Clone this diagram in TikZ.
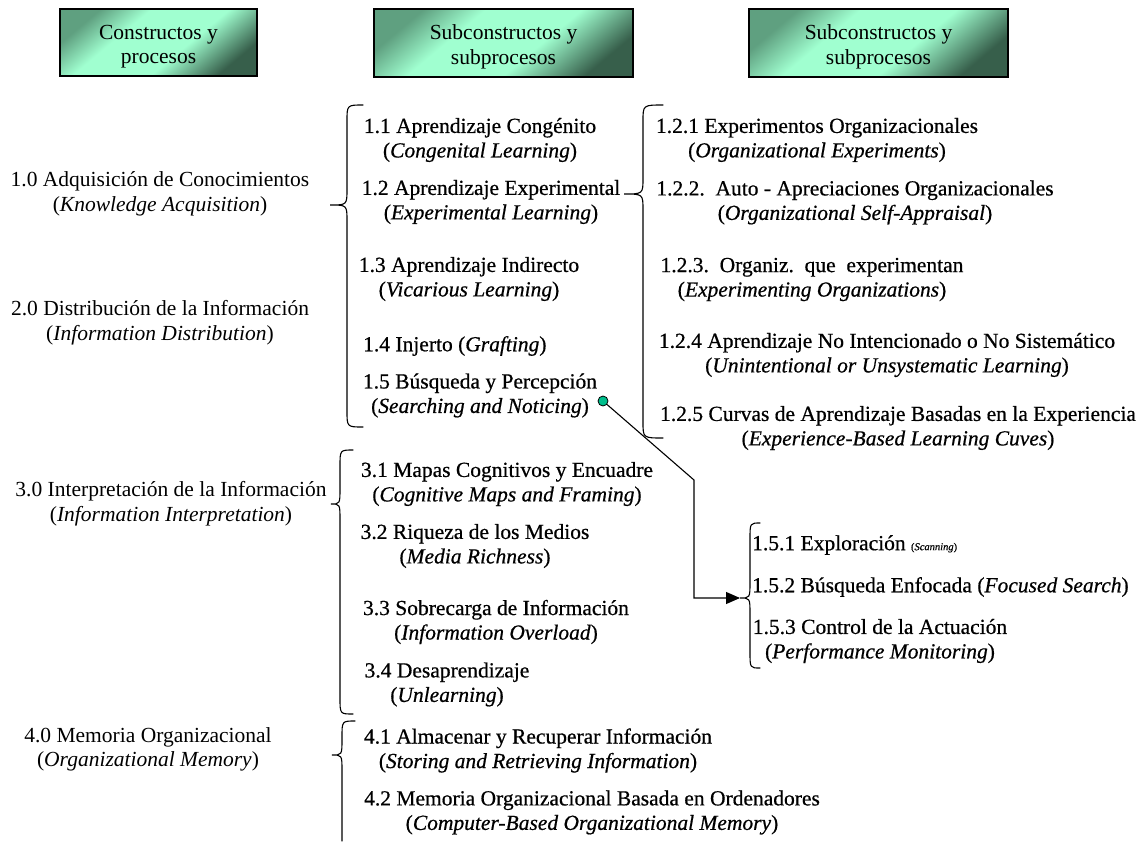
\documentclass[tikz,border=0pt]{standalone}
\usepackage{fontspec}
\setmainfont{Liberation Serif}
\newfontfamily\heavyfont[FakeBold=0.6]{Liberation Serif}
\usetikzlibrary{arrows.meta}
\frenchspacing
\definecolor{hlight}{RGB}{160,255,208}
\definecolor{hdarkA}{RGB}{95,160,128}
\definecolor{hdarkB}{RGB}{55,95,75}
\definecolor{dotfill}{RGB}{0,190,140}
\pgfdeclareverticalshading{hdrshade}{100bp}{color(0bp)=(hdarkB); color(25bp)=(hdarkB); color(42bp)=(hlight); color(62bp)=(hlight); color(75bp)=(hdarkA); color(100bp)=(hdarkA)}
\tikzset{
  txt/.style={font=\fontsize{21.5}{24.5}\selectfont, align=center, inner sep=0pt},
  stxt/.style={font=\heavyfont\fontsize{21.5}{24.5}\selectfont, align=center, inner sep=0pt},
  hdrbox/.style={draw=black, line width=1.4pt, shading=hdrshade, shading angle=40, inner sep=0pt},
  brc/.style={line width=1.1pt, line cap=round},
  conn/.style={line width=1.1pt, -{Triangle[length=14pt,width=12pt]}},
}
% xe, xv, xt, ytop, ytip, ybot
\newcommand{\mybrace}[6]{%
  \draw[brc] (#1,#4) .. controls (#2,#4) .. (#2,{#4+16}) -- (#2,{#5-16})
    .. controls (#2,#5) .. (#3,#5) .. controls (#2,#5) .. (#2,{#5+16})
    -- (#2,{#6-16}) .. controls (#2,#6) .. (#1,#6);}
\newcommand{\mybraceopen}[6]{%
  \draw[brc] (#1,#4) .. controls (#2,#4) .. (#2,{#4+16}) -- (#2,{#5-16})
    .. controls (#2,#5) .. (#3,#5) .. controls (#2,#5) .. (#2,{#5+16})
    -- (#2,#6);}
\begin{document}
\begin{tikzpicture}[x=1pt,y=-1pt]
\useasboundingbox (0,0) rectangle (1146,841);
\fill[white] (0,0) rectangle (1146,841);

% headers
\node[hdrbox, minimum width=197pt, minimum height=67pt] (h1) at (158.5,42.5) {};
\node[hdrbox, minimum width=259pt, minimum height=68pt] (h2) at (503.5,43) {};
\node[hdrbox, minimum width=259pt, minimum height=68pt] (h3) at (878.5,43) {};
\node[txt, yshift=-4pt] (h1t) at (h1.center) {Constructos y\\procesos};
\node[txt, yshift=-4pt] (h2t) at (h2.center) {Subconstructos y\\subprocesos};
\node[txt, yshift=-4pt] (h3t) at (h3.center) {Subconstructos y\\subprocesos};

% left column
\node[txt] (c1) at (160,194) {1.0 Adquisición de Conocimientos\\(\textit{Knowledge Acquisition})};
\node[txt] (c2) at (160,322.5) {2.0 Distribución de la Información\\(\textit{Information Distribution})};
\node[txt] (c3) at (171,503.5) {3.0 Interpretación de la Información\\(\textit{Information Interpretation})};
\node[txt] (c4) at (148,749.5) {4.0 Memoria Organizacional\\(\textit{Organizational Memory})};

% middle column
\node[stxt] (s11) at (480,140) {1.1 Aprendizaje Congénito\\(\textit{Congenital Learning})};
\node[stxt] (s12) at (491,202) {1.2 Aprendizaje Experimental\\(\textit{Experimental Learning})};
\node[stxt] (s13) at (469,279) {1.3 Aprendizaje Indirecto\\(\textit{Vicarious Learning})};
\node[stxt, anchor=west] (s14) at (363,346) {1.4 Injerto (\textit{Grafting})};
\node[stxt] (s15) at (480,395.5) {1.5 Búsqueda y Percepción\\(\textit{Searching and Noticing})};
\node[stxt] (s31) at (507,484) {3.1 Mapas Cognitivos y Encuadre\\(\textit{Cognitive Maps and Framing})};
\node[stxt] (s32) at (475,546) {3.2 Riqueza de los Medios\\(\textit{Media Richness})};
\node[stxt] (s33) at (496,622) {3.3 Sobrecarga de Información\\(\textit{Information Overload})};
\node[stxt] (s34) at (447,684.5) {3.4 Desaprendizaje\\(\textit{Unlearning})};
\node[stxt] (s41) at (538,750.5) {4.1 Almacenar y Recuperar Información\\(\textit{Storing and Retrieving Information})};
\node[stxt] (s42) at (592,812.5) {4.2 Memoria Organizacional Basada en Ordenadores\\(\textit{Computer-Based Organizational Memory})};

% right column
\node[stxt] (r121) at (817,140) {1.2.1 Experimentos Organizacionales\\(\textit{Organizational Experiments})};
\node[stxt] (r122) at (855,202.5) {1.2.2.\ \ Auto - Apreciaciones Organizacionales\\(\textit{Organizational Self-Appraisal})};
\node[stxt] (r123) at (812,279.5) {1.2.3.\ \ Organiz.\ \ que\ \ experimentan\\(\textit{Experimenting Organizations})};
\node[stxt] (r124) at (887,355) {1.2.4 Aprendizaje No Intencionado o No Sistemático\\(\textit{Unintentional or Unsystematic Learning})};
\node[stxt] (r125) at (898,428) {1.2.5 Curvas de Aprendizaje Basadas en la Experiencia\\(\textit{Experience-Based Learning Cuves})};
\node[stxt, anchor=west] (r151) at (752,545) {1.5.1 Exploración {\fontsize{10.5}{12}\selectfont(\textit{Scanning})}};
\node[stxt, anchor=west] (r152) at (752,587) {1.5.2 Búsqueda Enfocada (\textit{Focused Search})};
\node[stxt] (r153) at (880,641) {1.5.3 Control de la Actuación\\(\textit{Performance Monitoring})};

% braces
\mybrace{363}{347}{330}{105}{205}{427}
\mybrace{663}{643}{624}{105}{194}{438}
\mybrace{353}{340}{331}{450}{504}{714}
\mybraceopen{355}{342}{332}{721}{755}{841}
\mybrace{760}{750}{740}{523}{598}{668}

% connector
\node[circle, draw=black, fill=dotfill, minimum size=10pt, inner sep=0pt, line width=0.8pt] (dot) at (603,401) {};
\coordinate (bend) at (694,480);
\coordinate (tipE) at (740,598);
\draw[conn] (dot) -- (bend) |- (tipE);
\end{tikzpicture}
\end{document}
